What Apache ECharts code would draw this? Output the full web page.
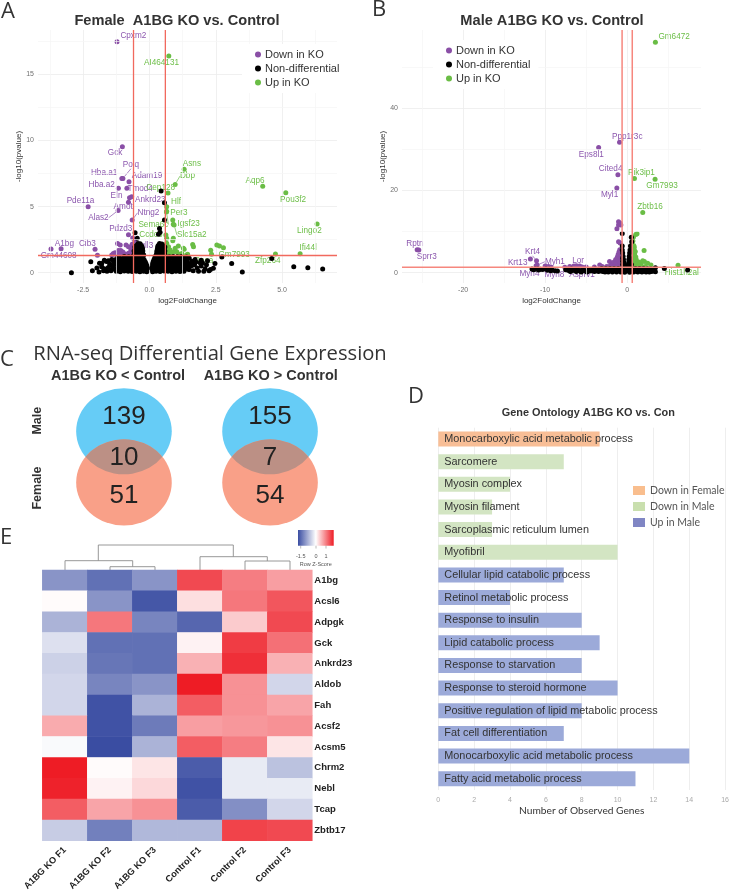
<!DOCTYPE html>
<html>
<head>
<meta charset="utf-8">
<style>html,body{margin:0;padding:0;background:#fff}#fig{width:732px;height:893px}</style>
<script src="https://cdn.jsdelivr.net/npm/echarts@6/dist/echarts.min.js"></script>
</head>
<body>
<div id="fig"></div>
<script>
// Female volcano: named genes [gene, log2FC, -log10 p]
const femaleDownGenes = [['Cpxm2',-1.22,17.47],['Gck',-1.02,9.53],['Polq',-1.0,7.13],['Hba.a1',-1.04,7.13],['Hba.a2',-1.17,6.38],['Adam19',-0.77,6.88],['Tmod4',-0.85,6.38],['Eln',-0.75,5.67],['Ankrd23',-0.67,5.75],['Pde11a',-2.31,4.99],['Amot',-0.79,5.32],['Alas2',-1.18,4.71],['Ntng2',-0.65,3.98],['Pdzd3',-0.79,2.87],['A1bg',-3.33,1.82],['Cib3',-2.05,1.77],['Gm44608',-3.71,1.79],['Vgll3',-0.54,1.97]];
const femaleUpGenes = [['AI464131',0.73,16.39],['Asns',1.31,7.82],['Dbp',0.97,6.68],['Cep128',0.70,6.03],['Hlf',0.65,4.99],['Per3',0.65,4.64],['Sema6c',0.64,4.6],['Igsf23',0.90,3.66],['Slc15a2',0.93,3.6],['Ccdc6',0.62,2.85],['Aqp6',4.27,6.53],['Pou3f2',5.14,6.05],['Lingo2',6.32,3.68],['Ifi44l',5.68,1.44],['Zfp264',4.75,1.41],['Gm7993',2.79,1.89],['Peca',1.40,1.34]];
const femaleDownOther = [[-1.96,1.31],[-1.2,2.2],[-1.1,2.1],[-0.88,2.1],[-0.79,1.97],[-0.67,1.85],[-0.48,2.02],[-1.36,1.46],[-1.3,1.5],[-1.17,1.67],[-1.08,1.67],[-1,1.57],[-0.92,1.42],[-0.79,1.47],[-0.7,1.6],[-0.6,1.67],[-1.17,1.34],[-1.05,1.39],[-1.42,1.34],[-0.63,2.63],[-0.65,2.15],[-0.95,1.35],[-0.85,1.35],[-0.75,1.35],[-0.7,1.8],[-0.62,1.4],[-0.65,1.34],[-1.25,1.35],[-1.1,1.42],[-0.55,2.4],[-0.58,1.5]];
const femaleUpOther = [[1.28,1.84],[1.63,2.14],[1.66,1.97],[2.31,1.69],[2.34,1.39],[2.54,2.09],[2.64,2.02],[1.44,1.39],[1.09,2.02],[0.9,2.6],[0.88,2.42],[0.65,2.22],[0.72,1.97],[0.78,1.71],[0.84,1.46],[0.63,1.84],[0.69,1.46],[0.62,1.66],[0.97,1.84],[1.03,1.59],[1.22,1.46],[1.31,1.77],[0.65,2.6],[0.78,1.34],[0.93,1.6],[1.09,1.41],[0.88,3.98]];
const femaleNeutral = [[0.44,6.18],[0.565,5.3],[0.565,3.98],[0.38,3.35],[0.4,3.05],[0.34,2.9],[-0.54,3.03],[-0.46,2.6],[-2.94,0],[-2.21,0.83],[-2.15,0.15],[-1.98,0.35],[-1.8,0.7],[-1.73,0.15],[3.5,0.05],[3.1,0.7],[2.73,1.18],[2.19,0.9],[2.47,0.7],[2.41,0.33],[1.91,0.76],[1.6,0.83],[4.61,1.08],[5.44,0.45],[5.97,0.38],[6.53,0.28],
[-1.25,0.1],[-1.1,0.08],[-0.95,0.12],[-0.8,0.1],[-0.65,0.09],[-0.5,0.11],[-0.36,0.08],[-0.22,0.1],[-0.1,0.07],[0.12,0.08],[0.25,0.1],[0.4,0.09],[0.55,0.12],[0.7,0.1],[0.85,0.08],[1,0.11],[1.15,0.09],[1.3,0.1],
[-1.42,0.24],[-1.26,0.25],[-1.1,0.23],[-0.94,0.24],[-0.78,0.26],[-0.62,0.23],[-0.48,0.25],[-0.34,0.24],[-0.2,0.23],[-0.1,0.25],[0.1,0.24],[0.2,0.23],[0.38,0.25],[0.54,0.24],[0.7,0.26],[0.86,0.23],[1,0.25],[1.16,0.24],[1.32,0.23],[1.48,0.26],
[-1.35,0.38],[-1.18,0.4],[-1.02,0.36],[-0.86,0.39],[-0.7,0.37],[-0.55,0.41],[-0.41,0.38],[-0.28,0.37],[-0.16,0.39],[-0.08,0.36],[0.09,0.37],[0.18,0.4],[0.32,0.38],[0.47,0.36],[0.62,0.39],[0.78,0.4],[0.93,0.37],[1.08,0.39],[1.24,0.36],[1.4,0.38],
[-1.4,0.53],[-1.2,0.54],[-1.05,0.52],[-0.9,0.53],[-0.74,0.55],[-0.6,0.52],[-0.45,0.54],[-0.32,0.53],[-0.2,0.52],[-0.1,0.54],[0.12,0.53],[0.28,0.52],[0.44,0.54],[0.6,0.53],[0.76,0.55],[0.92,0.52],[1.08,0.54],[1.25,0.53],[1.42,0.52],[1.6,0.55],
[-1.28,0.68],[-1.12,0.7],[-0.97,0.66],[-0.82,0.69],[-0.66,0.67],[-0.52,0.7],[-0.38,0.68],[-0.25,0.66],[-0.13,0.69],[0.12,0.68],[0.24,0.7],[0.38,0.67],[0.53,0.69],[0.69,0.66],[0.84,0.7],[1,0.68],[1.16,0.66],[1.33,0.69],
[-1.35,0.83],[-1.2,0.84],[-1.05,0.82],[-0.9,0.83],[-0.74,0.85],[-0.58,0.82],[-0.44,0.84],[-0.3,0.83],[-0.16,0.82],[0.14,0.83],[0.28,0.84],[0.44,0.82],[0.6,0.85],[0.76,0.83],[0.92,0.82],[1.08,0.84],[1.25,0.83],[1.42,0.82],[1.6,0.85],
[-1.05,0.98],[-0.9,1],[-0.75,0.96],[-0.6,0.99],[-0.47,0.97],[-0.33,1],[-0.2,0.98],[0.17,0.97],[0.3,1],[0.44,0.98],[0.58,0.96],[0.74,0.99],[0.9,1.01],[1.06,0.97],[1.22,0.99],
[-1.12,1.1],[-0.98,1.11],[-0.82,1.09],[-0.66,1.1],[-0.54,1.12],[-0.4,1.09],[-0.26,1.11],[0.2,1.1],[0.34,1.09],[0.5,1.11],[0.66,1.1],[0.82,1.12],[0.98,1.09],[1.14,1.11],[1.3,1.1],
[-0.95,1.22],[-0.78,1.2],[-0.62,1.23],[-0.5,1.21],[-0.37,1.22],[-0.24,1.2],[0.22,1.22],[0.33,1.2],[0.47,1.23],[0.6,1.21],[0.75,1.2],[0.9,1.23],[1.05,1.21],
[-0.58,1.35],[-0.45,1.36],[-0.33,1.34],[-0.22,1.35],[0.26,1.35],[0.36,1.36],[0.47,1.34],[0.58,1.35],
[-0.55,1.5],[-0.45,1.52],[-0.35,1.49],[-0.26,1.51],[0.28,1.5],[0.38,1.52],[0.48,1.49],[0.56,1.51],
[-0.58,1.65],[-0.47,1.66],[-0.36,1.64],[-0.25,1.65],[0.28,1.65],[0.4,1.66],[0.5,1.64],[0.58,1.65],
[-0.54,1.8],[-0.44,1.82],[-0.33,1.79],[-0.26,1.81],[0.3,1.8],[0.4,1.82],[0.5,1.79],[0.56,1.81],
[-0.55,1.95],[-0.46,1.96],[-0.34,1.94],[-0.28,1.95],[0.31,1.95],[0.41,1.96],[0.52,1.94],[0.58,1.95],
[-0.5,2.05],[-0.4,2.07],[-0.3,2.04],[0.33,2.05],[0.42,2.08],[0.52,2.04],
[-0.43,2.2],[-0.35,2.18],[0.38,2.2],[0.47,2.17],
[-1.62,0.85],[-1.55,0.4],[-1.5,0.65],[-1.45,0.15],[-1.7,0.3],[-1.42,1],[-1.3,0.98],[-1.2,1.1],[-1.88,0.72],[-1.6,0.1],[-1.9,0.05],[-1.8,0.45],[-1.7,0.95],[-1.55,0.9],
[1.45,0.7],[1.5,0.25],[1.55,0.5],[1.65,0.15],[1.7,0.6],[1.8,0.35],[1.35,1],[1.5,1.1],[1.2,1.22],[1.85,0.1],[1.95,0.5],[2.1,0.3],[2.05,0.1],[2.25,0.15],[2.3,0.25],[1.95,0.95],[1.72,1],[1.4,1.18],[2.15,0.6],[2,0.75],[1.75,0.8]];
const femaleTicksX = [-2.5,0,2.5,5];
const femaleMinorX = [-3.75,-1.25,1.25,3.75,6.25];
const femaleTicksY = [0,5,10,15];
const femaleMinorY = [2.5,7.5,12.5,17.5];
const femaleCutoffs = {fc:[-0.6,0.6], p:1.3};

// Male volcano
const maleDownGenes = [['Ppp1r3c',-0.93,31.7],['Eps8l1',-3.48,30.4],['Cited4',-1.13,23.8],['Myl1',-1.26,20.6],['Rptn',-25.6,5.6],['Sprr3',-25.4,5.5],['Krt4',-11.05,2.9],['Krt13',-11.8,3.3],['Myh1',-10.97,1.86],['Myh4',-11.1,1.7],['Myh8',-9.64,1.2],['Lor',-6.1,1.46],['Asprv1',-7,1.2]];
const maleUpGenes = [['Gm6472',3.44,56],['Pik3ip1',0.89,22.9],['Gm7993',3.4,22.7],['Zbtb16',1.9,14.6],['Hist1h2al',6.2,1.8]];
const maleDownOther = [[-1.05,12.4],[-0.85,12],[-1.25,10.7],[-1.05,11.6],[-0.77,11.6],[-1.05,7.5],[-0.85,7.2],[-2.15,2.7],[-3.35,1.9],[-3.05,1.5],
[-2.5,1.5],[-2.2,1.5],[-1.9,1.5],[-1.7,1.5],[-1.5,1.5],[-1.3,1.5],[-1.1,1.5],[-0.9,1.5],[-0.75,1.5],
[-1.9,2],[-1.7,2],[-1.5,2],[-1.3,2],[-1.1,2],[-0.9,2],[-0.75,2],[-1.6,2.6],[-1.4,2.6],[-1.2,2.6],[-1,2.6],[-0.85,2.6],[-0.72,2.6],
[-1.4,3.2],[-1.2,3.2],[-1,3.2],[-0.85,3.2],[-0.72,3.2],[-1.2,3.8],[-1.05,3.8],[-0.9,3.8],[-0.75,3.8],[-1.1,4.4],[-0.95,4.4],[-0.8,4.4],[-0.7,4.4],[-1,5],[-0.85,5],[-0.7,5],[-0.9,5.6],[-0.75,5.6],
[-7,1.5],[-6.5,1.6],[-6.2,1.7],[-5.8,1.6],[-5.5,1.4],[-10,1.6],[-9.6,1.5],[-9.3,1.4],[-7.6,1.3],[-5,1.4],[-4,1.4]];
const maleUpOther = [[0.77,8.7],[1.05,9.3],[1.2,9.45],[0.7,7.7],[2.06,5.4],[0.85,6.3],[0.97,5.1],[2.1,2.7],[2.5,2.3],[2.9,1.9],[1.7,2.4],[1.9,2.9],
[0.65,1.5],[0.85,1.5],[1.05,1.5],[1.25,1.5],[1.5,1.5],[1.8,1.5],[2.2,1.5],[0.65,2],[0.85,2],[1.05,2],[1.3,2],[1.6,2],[0.65,2.6],[0.85,2.6],[1.1,2.6],[1.4,2.6],[0.65,3.2],[0.85,3.2],[1.1,3.2],[0.65,3.8],[0.85,3.8],[1.05,3.8],[0.7,4.4],[0.9,4.4],[0.7,5.2],[0.95,5.2],[0.7,6],[0.85,6],[0.65,6.6],[0.8,6.6]];
const maleNeutral = [[-11.6,0.9],[-11.2,0.9],[-10.9,0.9],[-10.6,0.85],[-10.3,0.8],[-11.4,0.7],[-10.8,0.65],[-9.9,0.9],[-9.5,0.85],[-9.2,0.8],[-9.7,0.6],[-9.3,0.5],[-8.8,0.5],[-8.5,0.4],
[-7.2,0.6],[-6.8,0.9],[-6.5,0.6],[-6.1,0.8],[-5.8,0.5],[-5.4,0.7],[-5,0.5],[-4.7,0.8],[-4.3,0.5],[-4,0.3],[-3.6,0.7],[-3.3,0.5],[-3,0.3],[-6.9,0.3],[-6.2,0.3],[-5.6,0.2],[-4.9,0.2],[-3.9,0.9],[-3.1,1],
[-7.5,0.7],[-7,0.4],[-6.7,0.65],[-6.3,0.5],[-6,0.6],[-5.6,0.5],[-5.2,0.45],[-4.8,0.55],[-4.5,0.4],[-4.2,0.65],[-3.8,0.5],[-3.5,0.3],[-3.2,0.8],[-2.95,0.55],[3,0.3],[2.9,0.9],
[-2.7,0.2],[-2.3,0.15],[-1.8,0.2],[-1.3,0.15],[-0.8,0.2],[-0.3,0.1],[0.3,0.1],[0.8,0.15],[1.3,0.2],[1.8,0.15],[2.3,0.2],[2.7,0.15],
[-2.8,0.6],[-2.4,0.65],[-1.9,0.6],[-1.4,0.55],[-0.9,0.6],[-0.4,0.55],[0.1,0.5],[0.4,0.6],[0.9,0.55],[1.4,0.6],[1.9,0.65],[2.4,0.6],[2.9,0.55],
[-2.6,1],[-2.1,1.05],[-1.6,1],[-1.1,1.05],[-0.6,1],[-0.3,1.1],[0.2,1],[0.5,1.05],[1,1],[1.5,1.05],[2,1],[2.5,0.95],
[-0.6,9.5],[0.5,8.6],[0.55,7.5],[0.4,6.5],[0.35,5.5],[0.3,4.8],[0.25,4],[0.2,3.2],[0.2,2.5],[0.3,3.5],[0.4,3],[0.4,2.2],[0.5,2],[0.15,2],[0.15,1.5],[0.3,1.5],[0.45,1.4],
[-0.6,6.5],[-0.6,5.5],[-0.55,4.8],[-0.5,4],[-0.45,3.2],[-0.4,2.5],[-0.55,3.5],[-0.55,2.8],[-0.3,1.8],[-0.45,1.9],[-0.55,2],[-0.2,1.4],[-0.35,1.4],[-0.5,1.4],
[3.44,1.2],[3.44,0.25],[4.53,1.05],[7.37,0.65],[2.7,0.65],[3.1,0.6]];
const maleTicksX = [-20,-10,0];
const maleMinorX = [-25,-15,-5,5];
const maleTicksY = [0,20,40];
const maleMinorY = [10,30,50];
const maleCutoffs = {fc:[-0.62,0.62], p:1.3};

// Label placement around each gene's point, in pixels
const femaleLabelShift = {Cpxm2:[16.3,-5.7],Gck:[-7.3,6.3],Polq:[8,-13.7],'Hba.a1':[-17.7,-5.3],'Hba.a2':[-16.7,-4],Adam19:[18,-5.7],Tmod4:[13.3,0],Eln:[-13,-2],Ankrd23:[18.7,3.3],Pde11a:[-7.7,-5.7],Amot:[-5.3,4.3],Alas2:[-19.7,7.3],Ntng2:[16.3,-7.3],Pdzd3:[-7.7,-6],A1bg:[3.3,-5.3],Cib3:[-7.7,-6],Gm44608:[7.7,7],Vgll3:[9,-0.7],AI464131:[-7.3,7],Asns:[7.7,-5.7],Dbp:[12.3,-8.3],Cep128:[-7.3,-5.7],Hlf:[9.3,-5.3],Per3:[12.3,1.7],Sema6c:[-13,12.7],Igsf23:[15.3,-0.3],Slc15a2:[17.7,10],Ccdc6:[-15,0],Aqp6:[-7.7,-5.7],Pou3f2:[7.3,6.7],Lingo2:[-7.7,7],Ifi44l:[8,-6],Zfp264:[-7.7,7],Gm7993:[10.7,6.7],Peca:[17.3,6]};
const maleLabelShift = {Ppp1r3c:[7.7,-5.7],Eps8l1:[-7.3,7.3],Cited4:[-7.3,-6],Myl1:[-7.3,7],Rptn:[-2.3,-6.3],Sprr3:[8,6.7],Krt4:[-4,-9],Krt13:[-12.7,3.7],Myh1:[17.7,-3.3],Myh4:[-6.7,8],Myh8:[6.3,6.7],Lor:[1,-6],Asprv1:[12.3,6.7],Gm6472:[18.7,-5.3],'Pik3ip1':[7,-6],Gm7993:[7,6.7],Zbtb16:[7.3,-5.7],Hist1h2al:[3.7,7.3]};
const femaleLeaders = ['Polq','Alas2','Ntng2','Dbp','Sema6c','Slc15a2'];
const maleLeaders = ['Krt4','Myh1'];

// Venn counts
const vennColumns = ['A1BG KO < Control','A1BG KO > Control'];
const vennMaleOnly = [139,155];
const vennShared = [10,7];
const vennFemaleOnly = [51,54];

// Gene ontology bars
const goTerms = ['Monocarboxylic acid metabolic process','Sarcomere','Myosin complex','Myosin filament','Sarcoplasmic reticulum lumen','Myofibril','Cellular lipid catabolic process','Retinol metabolic process','Response to insulin','Lipid catabolic process','Response to starvation','Response to steroid hormone','Positive regulation of lipid metabolic process','Fat cell differentiation','Monocarboxylic acid metabolic process','Fatty acid metabolic process'];
const goCounts = [9,7,4,3,3,10,7,4,8,9,8,10,8,7,14,11];
const goGroups = ['Down in Female','Down in Male','Down in Male','Down in Male','Down in Male','Down in Male','Up in Male','Up in Male','Up in Male','Up in Male','Up in Male','Up in Male','Up in Male','Up in Male','Up in Male','Up in Male'];

// Heat map of row z-scores
const heatGenes = ['A1bg','Acsl6','Adpgk','Gck','Ankrd23','Aldob','Fah','Acsf2','Acsm5','Chrm2','Nebl','Tcap','Zbtb17'];
const heatSamples = ['A1BG KO F1','A1BG KO F2','A1BG KO F3','Control F1','Control F2','Control F3'];
const heatZ = [
 [-1.05,-1.4,-1.05,1.4,1.0,0.75],
 [0.03,-1.05,-1.65,0.25,1.05,1.3],
 [-0.75,1.05,-1.2,-1.5,0.4,1.4],
 [-0.3,-1.4,-1.4,0.1,1.5,1.1],
 [-0.45,-1.35,-1.4,0.6,1.6,0.6],
 [-0.4,-1.2,-1.05,1.75,0.85,-0.4],
 [-0.4,-1.7,-0.75,1.25,0.85,0.7],
 [0.65,-1.7,-1.3,0.75,0.8,0.85],
 [-0.05,-1.75,-0.75,1.25,1.0,0.2],
 [1.75,0.03,0.2,-1.6,-0.2,-0.6],
 [1.7,0.1,0.3,-1.7,-0.2,-0.2],
 [1.25,0.7,0.85,-1.6,-1.1,-0.4],
 [-0.5,-1.25,-0.7,-0.7,1.45,1.4]];

const PURPLE = '#8A4FA6', GREEN = '#6ABD45', PURPLE_TXT = '#8C57AE', GREEN_TXT = '#6CBE47';
const GRID_MAJOR = '#ECECEC', GRID_MINOR = '#F5F5F5';

const grids = [], xAxes = [], yAxes = [], series = [];

function labelled(genes, leaders, color) {
  return genes.map(([name, x, y]) => ({
    name, value: [x, y],
    label: {show: true, formatter: '{b}', position: 'inside', color, fontSize: 8.2, fontFamily: 'Liberation Sans'},
    labelLine: {show: leaders.includes(name), lineStyle: {color, width: 0.7}}
  }));
}

function volcano(cfg) {
  const gi = grids.length;
  grids.push({left: cfg.box[0], top: cfg.box[1], width: cfg.box[2], height: cfg.box[3]});
  const axisCommon = (ticks, name, range, gap) => ({
    type: 'value', gridIndex: gi, min: range[0], max: range[1], scale: true,
    name, nameLocation: 'middle', nameGap: gap,
    nameTextStyle: {fontSize: 8, color: '#333', fontFamily: 'Liberation Sans'},
    axisLine: {show: false},
    axisTick: {show: false, customValues: ticks},
    axisLabel: {customValues: ticks, fontSize: 7, color: '#707070', margin: 4, fontFamily: 'Liberation Sans',
      formatter: v => cfg.fmt ? cfg.fmt(v) : String(v)},
    splitLine: {show: true, lineStyle: {color: GRID_MAJOR, width: 0.8}}
  });
  xAxes.push(axisCommon(cfg.ticksX, 'log2FoldChange', cfg.rangeX, 13.5));
  const ya = axisCommon(cfg.ticksY, '-log10(pvalue)', cfg.rangeY, cfg.yNameGap);
  ya.axisLabel.formatter = v => String(v);
  yAxes.push(ya);
  const base = {type: 'scatter', xAxisIndex: gi, yAxisIndex: gi, symbol: 'circle', symbolSize: 5, clip: false};
  // faint gridlines halfway between the labelled ticks
  series.push({...base, name: 'minor grid', data: [], z: 1, silent: true,
    markLine: {silent: true, symbol: 'none', animation: false, label: {show: false},
      lineStyle: {color: GRID_MINOR, width: 0.7, type: 'solid'},
      data: [...cfg.minorX.map(v => ({xAxis: v})), ...cfg.minorY.map(v => ({yAxis: v}))]}});
  const layout = shift => p => {
    const s = shift[p.text] || [0, 0];
    return {dx: s[0], dy: s[1]};
  };
  series.push({...base, name: 'Down in KO', z: 3, itemStyle: {color: PURPLE, opacity: 1},
    labelLayout: layout(cfg.shift), labelLine: {show: false},
    data: [...labelled(cfg.down, cfg.leaders, PURPLE_TXT), ...cfg.downOther.map(v => ({value: v}))]});
  series.push({...base, name: 'Up in KO', z: 3, itemStyle: {color: GREEN, opacity: 1},
    labelLayout: layout(cfg.shift), labelLine: {show: false},
    data: [...labelled(cfg.up, cfg.leaders, GREEN_TXT), ...cfg.upOther.map(v => ({value: v}))]});
  series.push({...base, name: 'Non-differential', z: 4, itemStyle: {color: '#000', opacity: 1}, data: cfg.neutral});
  // significance cutoffs as lines across the whole panel
  const cutLine = (name, data) => ({type: 'line', name, xAxisIndex: gi, yAxisIndex: gi, data, z: 5, silent: true,
    showSymbol: false, symbol: 'none', itemStyle: {color: cfg.cutColor},
    lineStyle: {color: cfg.cutColor, width: cfg.cutWidth, opacity: 1}});
  cfg.cut.fc.forEach(v => series.push(cutLine('fold cutoff', [[v, cfg.rangeY[0]], [v, cfg.rangeY[1]]])));
  series.push(cutLine('p cutoff', [[cfg.rangeX[0], cfg.cut.p], [cfg.rangeX[1], cfg.cut.p]]));
}

volcano({box: [38, 30, 299, 253], rangeX: [-4.2, 7.07], rangeY: [-0.78, 18.36], yNameGap: 9.5,
  ticksX: femaleTicksX, ticksY: femaleTicksY, minorX: femaleMinorX, minorY: femaleMinorY,
  fmt: v => v.toFixed(1), cut: femaleCutoffs, cutColor: '#F1695E', cutWidth: 1.3,
  down: femaleDownGenes, up: femaleUpGenes, downOther: femaleDownOther, upOther: femaleUpOther,
  neutral: femaleNeutral, shift: femaleLabelShift, leaders: femaleLeaders});
volcano({box: [402, 30, 299, 253], rangeX: [-27.45, 9.0], rangeY: [-2.5, 58.95], yNameGap: 7,
  ticksX: maleTicksX, ticksY: maleTicksY, minorX: maleMinorX, minorY: maleMinorY,
  cut: maleCutoffs, cutColor: '#F6877E', cutWidth: 1.5,
  down: maleDownGenes, up: maleUpGenes, downOther: maleDownOther, upOther: maleUpOther,
  neutral: maleNeutral, shift: maleLabelShift, leaders: maleLeaders});

// Venn diagrams on a hidden two-column grid: male row 1, female row 0
const vennGrid = grids.length;
grids.push({left: 74, top: 380, width: 246, height: 150});
xAxes.push({type: 'value', gridIndex: vennGrid, show: false, min: -0.342, max: 1.342});
yAxes.push({type: 'value', gridIndex: vennGrid, show: false, min: -0.926, max: 1.998});
const vennBase = {type: 'scatter', xAxisIndex: vennGrid, yAxisIndex: vennGrid, silent: true, clip: false};
series.push({...vennBase, name: 'Male', symbol: 'circle', symbolSize: [95.6, 86], itemStyle: {color: '#66CCF6', opacity: 1}, z: 2,
  data: vennMaleOnly.map((_, c) => [c, 1])});
series.push({...vennBase, name: 'Female', symbol: 'circle', symbolSize: [95.6, 86], itemStyle: {color: '#F9A088', opacity: 1}, z: 3,
  data: vennFemaleOnly.map((_, c) => [c, 0])});
series.push({...vennBase, name: 'Both', symbol: 'path://M0 20.5A47.7 47.7 0 0 1 78.4 20.5A47.7 47.7 0 0 1 0 20.5Z',
  symbolSize: [76.8, 35], symbolKeepAspect: false, itemStyle: {color: '#BC9085', opacity: 1}, z: 4, data: vennShared.map((_, c) => [c, 0.5])});
const vennLabel = (rows, row) => ({...vennBase, name: 'counts', symbolSize: 0, z: 5, itemStyle: {opacity: 1},
  label: {show: true, position: 'inside', formatter: p => String(rows[p.dataIndex]), fontSize: 26, color: '#222', fontFamily: 'Liberation Sans'},
  data: rows.map((_, c) => [c, row])});
series.push(vennLabel(vennMaleOnly, 1.277), vennLabel(vennShared, 0.478), vennLabel(vennFemaleOnly, -0.263));

// Gene ontology horizontal bars
const goGrid = grids.length;
grids.push({left: 438.3, top: 427.7, width: 289, height: 362.3});
xAxes.push({type: 'value', gridIndex: goGrid, min: 0, max: 16, interval: 2,
  name: 'Number of Observed Genes', nameLocation: 'middle', nameGap: 16,
  nameTextStyle: {fontSize: 10.2, color: '#333', fontFamily: 'Lato'},
  axisLine: {show: false}, axisTick: {show: false},
  axisLabel: {fontSize: 7, color: '#AAAAAA', margin: 7},
  splitLine: {lineStyle: {color: '#EEEEEE', width: 1}}});
yAxes.push({type: 'category', gridIndex: goGrid, inverse: true, data: goTerms, z: 6,
  axisLine: {show: false}, axisTick: {show: false}, splitLine: {show: false},
  axisLabel: {inside: true, align: 'left', interval: 0, margin: 6, fontSize: 10.85, color: '#333', fontFamily: 'Liberation Sans'}});
const goColors = {'Down in Female': '#F8BE96', 'Down in Male': '#D3E5C3', 'Up in Male': '#9CAAD9'};
const goLegendColors = {'Down in Female': '#F9BE8E', 'Down in Male': '#C9DFAE', 'Up in Male': '#8086C4'};
Object.keys(goColors).forEach(g => series.push({type: 'bar', name: g, xAxisIndex: goGrid, yAxisIndex: goGrid,
  stack: 'terms', barWidth: 15, itemStyle: {color: goColors[g]}, silent: true, z: 2,
  data: goCounts.map((v, i) => goGroups[i] === g ? v : null)}));

// Heat map
const heatGrid = grids.length;
grids.push({left: 42.3, top: 570, width: 270, height: 276});
xAxes.push({type: 'category', gridIndex: heatGrid, data: heatSamples, position: 'bottom',
  axisLine: {show: false}, axisTick: {show: false}, splitLine: {show: false}, splitArea: {show: false},
  axisLabel: {rotate: 45, interval: 0, margin: 8, fontSize: 9.2, fontWeight: 'bold', color: '#222', fontFamily: 'Liberation Sans'}});
yAxes.push({type: 'category', gridIndex: heatGrid, data: heatGenes, inverse: true, position: 'right',
  axisLine: {show: false}, axisTick: {show: false}, splitLine: {show: false}, splitArea: {show: false},
  axisLabel: {interval: 0, margin: 2, fontSize: 9.5, fontWeight: 'bold', color: '#222', fontFamily: 'Liberation Sans'}});
const heatIndex = series.length;
const heatCells = [];
heatZ.forEach((row, r) => row.forEach((z, c) => heatCells.push([c, r, z])));
series.push({type: 'heatmap', name: 'Row Z-Score', xAxisIndex: heatGrid, yAxisIndex: heatGrid, data: heatCells, silent: true});

// Dendrogram over the samples, colour key and panel furniture
const dendroSegments = [
  [[98.3,560.7],[98.3,545],[233.3,545],[233.3,556.7]],
  [[65,570],[65,560.7],[132.7,560.7],[132.7,566.7]],
  [[110,570],[110,566.7],[155,566.7],[155,570]],
  [[200,570],[200,556.7],[267.3,556.7],[267.3,561]],
  [[245,570],[245,561],[290,561],[290,570]]];
const keyTicks = [['-1.5',300.7],['0',316],['1',326]];
const graphics = [
  ...dendroSegments.map(points => ({type: 'polyline', shape: {points}, style: {stroke: '#8C8C8C', lineWidth: 0.9, fill: null}, silent: true})),
  {type: 'rect', shape: {x: 298, y: 530, width: 35.7, height: 15.7},
    style: {fill: new echarts.graphic.LinearGradient(0, 0, 1, 0, [{offset: 0, color: '#3A4DA2'}, {offset: 0.5, color: '#FFFFFF'}, {offset: 1, color: '#EE1C25'}])}},
  ...keyTicks.map(([t, x]) => ({type: 'text', style: {text: t, x, y: 556, textAlign: 'center', textVerticalAlign: 'middle', fontSize: 5.5, fill: '#555', fontFamily: 'Liberation Sans'}})),
  ...keyTicks.map(([t, x]) => ({type: 'line', shape: {x1: x, y1: 545.7, x2: x, y2: 548.5}, style: {stroke: '#777', lineWidth: 0.5}})),
  {type: 'text', style: {text: 'Row Z-Score', x: 315.7, y: 564.7, textAlign: 'center', textVerticalAlign: 'middle', fontSize: 5.5, fill: '#555', fontFamily: 'Liberation Sans'}},
  {type: 'text', rotation: Math.PI / 2, x: 38, y: 420.7, style: {text: 'Male', textAlign: 'center', textVerticalAlign: 'middle', fontSize: 12.5, fontWeight: 'bold', fill: '#333', fontFamily: 'Liberation Sans'}},
  {type: 'text', rotation: Math.PI / 2, x: 38, y: 488, style: {text: 'Female', textAlign: 'center', textVerticalAlign: 'middle', fontSize: 12.5, fontWeight: 'bold', fill: '#333', fontFamily: 'Liberation Sans'}}
];

const heading = (text, x, y, fontSize, fontWeight, fontFamily, color) => ({
  text, left: x, top: y, textAlign: 'center', textVerticalAlign: 'middle', padding: 0,
  textStyle: {fontSize, fontWeight, fontFamily, color: color || '#333'}});
const titles = [
  heading('Female  A1BG KO vs. Control', 177, 21, 14.6, 'bold', 'Liberation Sans'),
  heading('Male A1BG KO vs. Control', 552, 21, 14.6, 'bold', 'Liberation Sans'),
  heading('RNA-seq Differential Gene Expression', 210, 354, 20.2, 'normal', 'Open Sans'),
  heading(vennColumns[0], 118, 376, 14.5, 'bold', 'Liberation Sans'),
  heading(vennColumns[1], 270.7, 376, 14.5, 'bold', 'Liberation Sans'),
  heading('Gene Ontology A1BG KO vs. Con', 588.3, 412.7, 10.9, 'bold', 'Liberation Sans'),
  heading('A', 8, 12, 22, 'normal', 'Open Sans'),
  heading('B', 379, 10, 22, 'normal', 'Open Sans'),
  heading('C', 7, 360, 22, 'normal', 'Open Sans'),
  heading('D', 416, 397, 22, 'normal', 'Open Sans'),
  heading('E', 6, 538, 22, 'normal', 'Open Sans')
];

const volcanoLegend = (left, top) => ({
  left, top, orient: 'vertical', itemWidth: 6, itemHeight: 6, itemGap: 3, icon: 'circle',
  padding: [5, 8, 5, 13], backgroundColor: '#fff', selectedMode: false, z: 6,
  data: ['Down in KO', 'Non-differential', 'Up in KO'],
  textStyle: {fontSize: 11, color: '#333', fontFamily: 'Liberation Sans', padding: [0, 0, 0, -1]}
});

echarts.init(document.getElementById('fig'), null, {renderer: 'canvas'}).setOption({
  animation: false,
  backgroundColor: '#fff',
  textStyle: {fontFamily: 'Liberation Sans'},
  title: titles,
  tooltip: {show: false},
  grid: grids,
  xAxis: xAxes,
  yAxis: yAxes,
  legend: [
    volcanoLegend(242, 44),
    volcanoLegend(433, 40),
    {left: 633, top: 485, orient: 'vertical', itemWidth: 12, itemHeight: 9, itemGap: 5, selectedMode: false, padding: 0,
      data: Object.keys(goColors).map(name => ({name, icon: 'rect', itemStyle: {color: goLegendColors[name]}})),
      textStyle: {fontSize: 10.5, color: '#555', fontFamily: 'Lato'}}
  ],
  visualMap: {show: false, type: 'continuous', min: -1.75, max: 1.75, seriesIndex: heatIndex,
    inRange: {color: ['#3A4DA2', '#FFFFFF', '#EE1C25']}},
  graphic: {elements: graphics},
  series
});
</script>
</body>
</html>
